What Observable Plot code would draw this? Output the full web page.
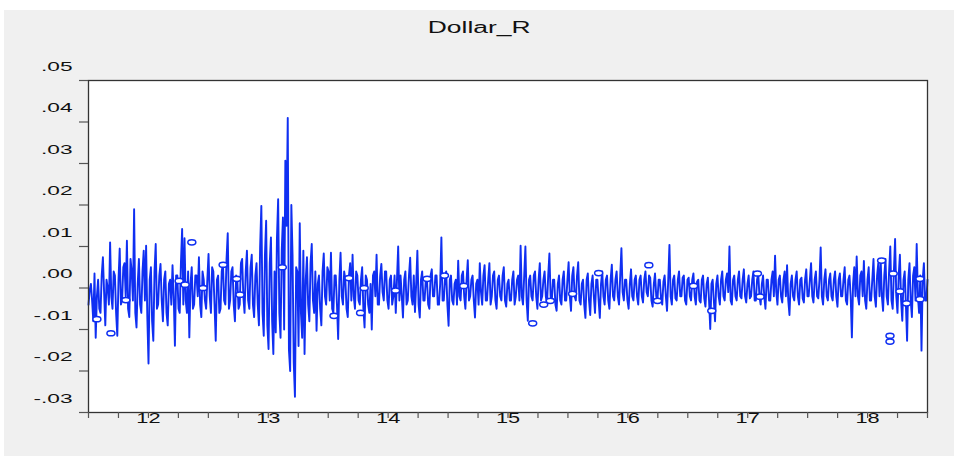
<!DOCTYPE html>
<html><head><meta charset="utf-8">
<script src="https://cdn.jsdelivr.net/npm/d3@7"></script>
<script src="https://cdn.jsdelivr.net/npm/@observablehq/plot@0.6"></script>
<style>
html,body{margin:0;padding:0;background:#fff;width:954px;height:456px;overflow:hidden}
#panel{position:absolute;left:4px;top:10px;width:950px;height:446px;background:#f0f0f0}
#chart{position:absolute;left:0;top:0}
#title{position:absolute;left:0;width:100%;top:8px;text-align:center;font:16px "Liberation Sans",Arial,sans-serif;color:#111;line-height:19px}
#title span{display:inline-block;transform:scaleX(1.65)}
</style></head><body>
<div id="panel"><div id="chart"></div><div id="title"><span>Dollar_R</span></div></div>
<script>
const startYear = 2011.5, endYear = 2018.5;
const dollarR_bp = [
 -40, -5, 10, -30, -80, 35, -120, -20, 20, -50, -60, 30, 74, -10, -90, 20, 0, -40, 110, -20,
 -50, 40, 30, -60, -115, 20, 95, -40, -30, 50, 60, -20, 114, -50, -70, 70, 40, -30, 190, -60,
 -95, 10, 70, -40, -60, 40, 90, -30, 102, -70, -182, 20, 50, -80, -127, 40, 106, -50, -40, 30,
 58, -30, -80, 20, 40, -60, -90, 10, 20, -40, 55, -20, -139, 30, 30, -50, -60, 60, 142, -40,
 120, -30, -60, 40, -119, 10, 50, -50, -40, 30, 30, -20, 74, -40, -70, 40, 20, -30, -50, 20,
 82, -20, -60, 50, 40, -40, -127, 20, 30, -60, -50, 40, 60, -30, -40, 70, 132, -50, -30, 40,
 50, -40, -80, 30, 20, -50, -40, 60, 70, -20, -60, 40, 90, -30, -50, 50, 80, -40, -70, 30,
 60, -40, -90, 100, 198, -60, -115, 80, 162, -90, -147, 60, 122, -80, -159, 40, -107, 120, 214, -60,
 -120, 90, 170, -100, 307, 150, 410, -150, -200, 200, 80, -180, -262, 50, 40, -140, 156, -60, -120, 90,
 -159, 20, 74, -40, -80, 60, 106, -30, -60, 40, -103, 10, 30, -50, -90, 40, 83, -20, -40, 50,
 40, -30, 85, -50, -60, 30, 30, -40, -123, 20, 85, -20, -40, 40, 20, -50, -70, 30, 60, -30,
 80, -20, -50, 40, 30, -30, -40, 20, 50, -50, -95, 30, 20, -40, -60, 10, -100, 30, 40, -20,
 80, -40, -40, 30, 58, -10, -30, 40, 40, -30, -50, 20, 30, -40, -20, 30, -60, 20, 100, -30,
 30, -20, -71, 20, 40, -40, -30, 30, 73, -20, -40, 30, -58, 10, 90, -40, -71, 20, 40, -30,
 -30, 20, 20, -40, -50, 30, 45, -20, -20, 30, 30, -40, -40, 10, 122, -30, -30, 20, 40, -40,
 -91, 20, 30, -30, -40, 10, 20, -40, 66, -20, -30, 30, 40, -20, -50, 20, 67, -30, -20, 20,
 30, -30, -71, 10, 20, -40, 60, -10, -40, 30, 55, -30, -30, 20, 60, -40, -20, 30, 40, -30,
 -50, 20, 30, -20, -30, 30, 50, -30, -45, 10, 20, -30, -30, 20, 40, -40, -20, 20, 30, -30,
 102, -20, -40, 30, 100, -30, -79, 20, 30, -20, -30, 30, 40, -20, -50, 20, 60, -30, -20, 20,
 40, -20, -40, 30, 83, -20, -30, 20, 20, -40, -55, 10, 30, -30, -40, 20, 40, -30, -30, 20,
 62, -20, -55, 30, 50, -20, -30, 30, 62, -30, -40, 10, 20, -40, -72, 20, 35, -30, -65, 10,
 30, -20, -60, 20, 20, -30, -72, 10, 40, -20, -40, 20, 30, -30, -50, 20, 56, -20, -30, 20,
 40, -20, -40, 30, 96, -10, -30, 20, 20, -30, -50, 10, 45, -20, -30, 20, 30, -20, -40, 20,
 30, -20, -35, 20, 40, -10, -20, 30, 25, -30, -45, 10, 35, -20, -30, 20, 20, -25, -40, 15,
 30, -20, -55, 20, 104, -20, -40, 20, 30, -25, -30, 20, 40, -20, -20, 25, 30, -30, -40, 20,
 25, -20, -30, 20, 35, -20, -40, 15, 20, -30, -35, 20, 30, -25, -45, 10, 25, -30, -99, 10,
 20, -30, -80, 10, 30, -20, -40, 20, 40, -20, -30, 20, 35, -10, 100, -30, -40, 20, 30, -20,
 -30, 20, 40, -20, -25, 20, 45, -20, -35, 10, 30, -25, -20, 20, 40, -30, -30, 20, 35, -20,
 -40, 10, 30, -20, -50, 20, 20, -30, -30, 20, 40, -20, 78, -10, -40, 20, 30, -20, -35, 20,
 40, -20, 55, -30, -65, 10, 30, -20, -30, 20, 40, -20, -40, 20, 25, -25, -35, 20, 45, -20,
 -20, 20, 60, -20, -35, 20, 40, -20, -25, 20, 98, -20, -40, 20, 45, -20, -30, 20, 35, -20,
 -30, 20, 40, -20, -45, 20, 35, -20, -20, 20, 50, -30, -40, 20, 30, -20, -119, 10, 50, -20,
 76, -20, -40, 30, 40, -20, 65, -30, -50, 20, 50, -30, -30, 20, 70, -20, -45, 30, 60, -20,
 66, -20, -55, 30, 70, -20, -40, 40, 100, -30, -50, 40, 118, -20, -60, 30, 80, -30, -79, 20,
 40, -40, -127, 20, 60, -30, -70, 30, 50, -30, 106, -20, -60, 30, -151, 20, 60, -30, -30, 20
];
// isolated observations (drawn as circles)
const isolatedYears = [2011.570, 2011.687, 2011.812, 2012.256, 2012.306, 2012.362, 2012.456, 2012.623, 2012.737, 2012.764,
 2013.117, 2013.548, 2013.673, 2013.770, 2013.800, 2014.062, 2014.325, 2014.470, 2014.631, 2015.206,
 2015.298, 2015.353, 2015.539, 2015.756, 2016.175, 2016.248, 2016.548, 2016.700, 2017.081, 2017.103,
 2018.117, 2018.187, 2018.187, 2018.214, 2018.270, 2018.325, 2018.437, 2018.437];
const isolated_bp = [-75, -109, -29, 17, 8, 110, 0, 56, 22, -16,
 50, -67, 24, -60, 0, -6, 22, 30, 5, -85,
 -40, -31, -14, 36, 55, -31, 5, -55, 35, -21,
 66, -115, -129, 35, -8, -37, 22, -27];
const yTicks = [-0.03, -0.02, -0.01, 0, 0.01, 0.02, 0.03, 0.04, 0.05];
const yearTicks = [2012, 2013, 2014, 2015, 2016, 2017, 2018];
const yearLabels = ["12", "13", "14", "15", "16", "17", "18"];
const quarterTicks = d3.range(startYear, endYear + 0.001, 0.25);

const n = dollarR_bp.length;
const series = dollarR_bp.map((v, i) => ({t: startYear + i * (endYear - startYear) / (n - 1), r: v / 10000}));
const isolated = isolatedYears.map((t, i) => ({t, r: isolated_bp[i] / 10000}));
const fmt = d => d.toFixed(2).replace("0.", ".");
const blue = "#0f2ff2";
const font = '"Liberation Sans", Arial, sans-serif';

const chart = Plot.plot({
  width: 950, height: 446,
  marginLeft: 84, marginRight: 27, marginTop: 70, marginBottom: 44,
  style: {background: "transparent", fontFamily: font},
  x: {domain: [startYear, endYear], axis: null},
  y: {domain: [-0.03, 0.05], axis: null},
  marks: [
    Plot.frame({fill: "white", stroke: "none"}),
    Plot.line(series, {x: "t", y: "r", stroke: blue, strokeWidth: 1.9}),
    Plot.dot(isolated, {x: "t", y: "r", r: 3, stroke: blue, fill: "white", strokeWidth: 1.5}),
    Plot.frame({stroke: "#333", strokeWidth: 1.3}),
    Plot.axisY({ticks: yTicks, tickSize: 9, tickFormat: () => "", label: null, stroke: "#555", strokeWidth: 1.2}),
    Plot.axisX({ticks: quarterTicks, tickSize: 6, tickFormat: () => "", label: null, stroke: "#555", strokeWidth: 1.2}),
    Plot.text(yTicks, {y: d => d, text: fmt, frameAnchor: "left", textAnchor: "end", dx: -16, dy: -14, fontSize: 13.5, fill: "#111"}),
    Plot.text(yearTicks, {x: d => d, text: (d, i) => yearLabels[i], frameAnchor: "bottom", dy: 10, fontSize: 15, fill: "#111"})
  ]
});
document.getElementById("chart").appendChild(chart);

// the reference's lettering is stretched horizontally: widen each label about its anchor
function stretch(group, k) {
  if (!group) return;
  group.querySelectorAll("text").forEach(t => {
    let tx = 0, ty = 0;
    for (const a of ["x", "y"]) {
      const v = t.getAttribute(a);
      if (v != null && /^-?[\d.]+$/.test(v)) {
        if (a === "x") tx = +v; else ty = +v;
        t.removeAttribute(a);
      }
    }
    const prev = t.getAttribute("transform") || "";
    t.setAttribute("transform", `${prev} translate(${tx},${ty}) scale(${k},1)`);
  });
}
const textGroups = chart.querySelectorAll("g[aria-label='text']");
stretch(textGroups[0], 1.68);
stretch(textGroups[1], 1.45);

// isolated observations are drawn as flat ellipses in the reference
const ns = "http://www.w3.org/2000/svg";
chart.querySelectorAll("g[aria-label='dot'] circle").forEach(c => {
  const e = document.createElementNS(ns, "ellipse");
  e.setAttribute("cx", c.getAttribute("cx"));
  e.setAttribute("cy", c.getAttribute("cy"));
  if (c.getAttribute("transform")) e.setAttribute("transform", c.getAttribute("transform"));
  e.setAttribute("rx", 4);
  e.setAttribute("ry", 2.6);
  c.replaceWith(e);
});
</script>
</body></html>
